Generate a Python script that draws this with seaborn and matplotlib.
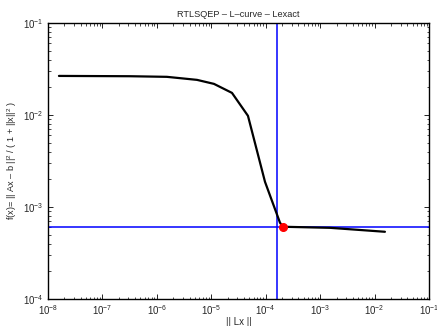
import numpy as np
import pandas as pd
import matplotlib
matplotlib.use("Agg")
import matplotlib.pyplot as plt
import matplotlib.ticker as mticker
import seaborn as sns

# L-curve points
LX_NORM = [1.59e-8, 3.21e-7, 1.53e-6, 5.46e-6, 1.12e-5, 2.40e-5, 4.72e-5,
           9.7e-5, 1.83e-4, 2.08e-4, 1.52e-3, 1.55e-2]
F_VALUE = [2.66e-2, 2.64e-2, 2.60e-2, 2.41e-2, 2.18e-2, 1.74e-2, 9.8e-3,
           1.88e-3, 6.75e-4, 6.1e-4, 5.94e-4, 5.38e-4]

# selected corner and exact-L reference lines
CORNER_X = 2.08e-4
CORNER_Y = 6.1e-4
VLINE_X = 1.61e-4
HLINE_Y = 6.1e-4

sns.set_style("white")
plt.rcParams["font.family"] = ["Liberation Sans", "DejaVu Sans"]
plt.rcParams["mathtext.fontset"] = "custom"
plt.rcParams["mathtext.rm"] = "Liberation Sans"
plt.rcParams["mathtext.it"] = "Liberation Sans"

df = pd.DataFrame({"lx": LX_NORM, "f": F_VALUE})

fig = plt.figure(figsize=(4.37, 3.26), dpi=100)
ax = fig.add_axes([0.1098, 0.0828, 0.8719, 0.8466])

ax.axvline(VLINE_X, color="#0000ff", lw=1.1, zorder=1)
ax.axhline(HLINE_Y, color="#0000ff", lw=1.1, zorder=1)
sns.lineplot(data=df, x="lx", y="f", sort=False, estimator=None, color="black",
             lw=1.6, ax=ax, zorder=2)
ax.plot([CORNER_X], [CORNER_Y], "o", ms=5.5, mfc="red", mec="red", zorder=3)

ax.set_xscale("log")
ax.set_yscale("log")
ax.set_xlim(1e-8, 1e-1)
ax.set_ylim(1e-4, 1e-1)
for axis in (ax.xaxis, ax.yaxis):
    axis.set_major_locator(mticker.LogLocator(base=10, numticks=20))
    axis.set_minor_locator(mticker.LogLocator(base=10, subs=np.arange(2, 10), numticks=100))
    axis.set_minor_formatter(mticker.NullFormatter())

ax.tick_params(which="both", direction="in", bottom=True, left=True, top=True, right=True,
               labelsize=7, pad=3, color="black")
ax.tick_params(which="major", length=3.5, width=0.6)
ax.tick_params(which="minor", length=1.8, width=0.5)
for s in ax.spines.values():
    s.set_linewidth(1.0)
    s.set_color("black")

ax.set_title("RTLSQEP \u2013 L\u2013curve \u2013 Lexact", fontsize=6.6, pad=4)
ax.set_xlabel("|| Lx ||", fontsize=7, labelpad=0)
ax.set_ylabel("f(x)= || Ax \u2013 b ||$^2$ / ( 1 + ||x||$^2$ )", fontsize=6.6, labelpad=3)

fig.savefig("out.png", dpi=100)
